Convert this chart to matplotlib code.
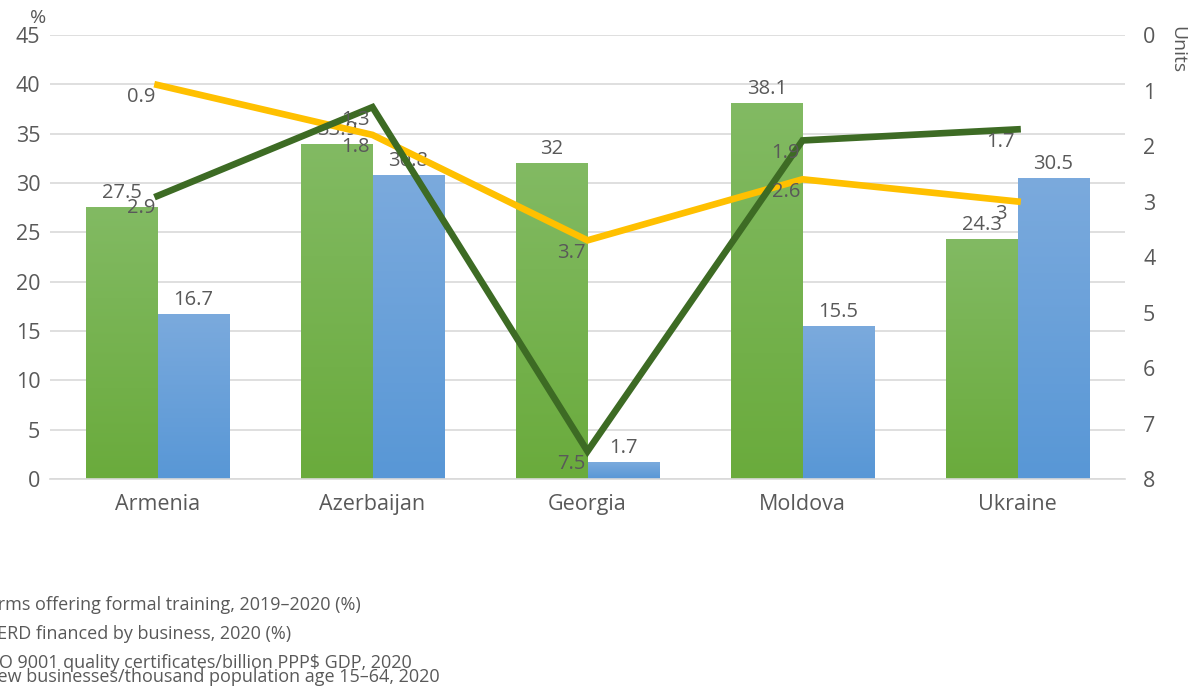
import matplotlib
matplotlib.use("Agg")
import matplotlib.pyplot as plt
import numpy as np
from matplotlib.colors import LinearSegmentedColormap

countries = ["Armenia", "Azerbaijan", "Georgia", "Moldova", "Ukraine"]
firms_training = [27.5, 33.9, 32, 38.1, 24.3]
gerd_business = [16.7, 30.8, 1.7, 15.5, 30.5]
iso_certs = [0.9, 1.8, 3.7, 2.6, 3]
new_business = [2.9, 1.3, 7.5, 1.9, 1.7]
legend_labels = [
    "Firms offering formal training, 2019\u20132020 (%)",
    "GERD financed by business, 2020 (%)",
    "ISO 9001 quality certificates/billion PPP$ GDP, 2020",
    "New businesses/thousand population age 15\u201364, 2020",
]
left_ticks = list(range(0, 50, 5))
right_ticks = list(range(0, 9))

plt.rcParams['font.family'] = ['Open Sans', 'DejaVu Sans']
TXT = '#595959'

fig = plt.figure(figsize=(11.95, 6.91), dpi=100)
ax = fig.add_axes([50/1195, 1-479/691, 1075/1195, 444/691])
ax2 = ax.twinx()

x = np.arange(len(countries))
w = 1/3

green_cmap = LinearSegmentedColormap.from_list('g', ['#6aab3c', '#82ba63'])
blue_cmap = LinearSegmentedColormap.from_list('b', ['#5897d6', '#7baadd'])
grad = np.linspace(0, 1, 256).reshape(-1, 1)

b1 = ax.bar(x - w/2, firms_training, w, color='none', edgecolor='none', zorder=2)
b2 = ax.bar(x + w/2, gerd_business, w, color='none', edgecolor='none', zorder=2)
for bars, cmap in ((b1, green_cmap), (b2, blue_cmap)):
    for p in bars:
        x0 = p.get_x(); x1 = x0 + p.get_width(); h = p.get_height()
        ax.imshow(grad, extent=(x0, x1, 0, h), origin='lower', cmap=cmap,
                  aspect='auto', zorder=2, interpolation='bilinear')
for bars, vals in ((b1, firms_training), (b2, gerd_business)):
    for p, v in zip(bars, vals):
        ax.annotate(f"{v:g}", (p.get_x() + p.get_width()/2, v), xytext=(0, 3),
                    textcoords='offset points', ha='center', va='bottom',
                    fontsize=14.5, color=TXT, zorder=5)

ax.set_xlim(-0.5, len(countries) - 0.5)
ax.set_ylim(0, 45)
ax.set_yticks(left_ticks)
ax.set_xticks(x)
ax.set_xticklabels(countries)
ax.grid(axis='y', color='#d9d9d9', linewidth=1.2, zorder=0)
ax.set_axisbelow(True)
for s in ('top', 'left', 'right'):
    ax.spines[s].set_visible(False)
ax.spines['bottom'].set_color('#d9d9d9')
ax.spines['bottom'].set_linewidth(1.2)
ax.tick_params(axis='both', length=0, labelsize=15.5, labelcolor=TXT)
ax.tick_params(axis='x', pad=11)
ax.tick_params(axis='y', pad=7)

ax2.plot(x, iso_certs, color='#ffc000', lw=4.8, zorder=3, solid_joinstyle='miter')
ax2.plot(x, new_business, color='#3d6b24', lw=4.8, zorder=4, solid_joinstyle='miter')
for vals in (iso_certs, new_business):
    for xi, v in zip(x, vals):
        ax2.annotate(f"{v:g}", (xi, v), xytext=(-12, -9), textcoords='offset points',
                     ha='center', va='center', fontsize=14.5, color=TXT, zorder=6)
ax2.set_ylim(8, 0)
ax2.set_yticks(right_ticks)
for s in ('top', 'left', 'right', 'bottom'):
    ax2.spines[s].set_visible(False)
ax2.tick_params(axis='y', length=0, labelsize=15.5, labelcolor=TXT, pad=13)

fig.text(38/1195, 1-18/691, "%", fontsize=14, color=TXT, ha='center', va='center')
fig.text(1177/1195, 1-50/691, "Units", fontsize=14, color=TXT, ha='center',
         va='center', rotation=270)

leg_y = [605, 634, 663, 677]
for lab, yy in zip(legend_labels, leg_y):
    fig.text(-16/1195, 1-yy/691, lab, fontsize=13, color=TXT, ha='left', va='center')

fig.savefig("out.png", dpi=100)
